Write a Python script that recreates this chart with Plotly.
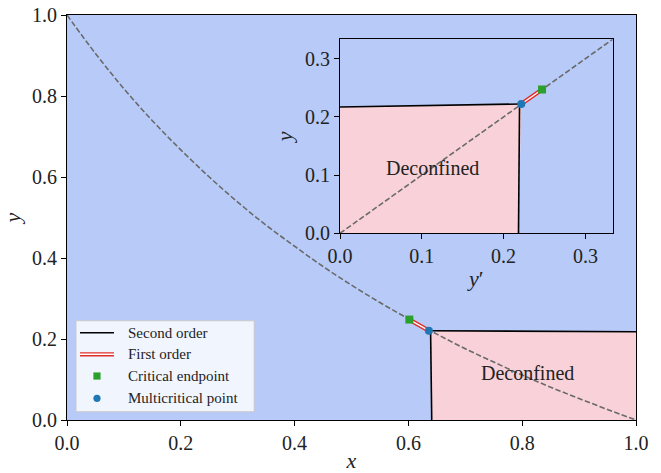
import plotly.graph_objects as go

# ---------------- data ----------------
# main panel: self-dual (dashed) curve
dual_x = [0.0, 0.05, 0.1, 0.15, 0.2, 0.25, 0.3, 0.35, 0.4, 0.45, 0.5,
          0.55, 0.6, 0.65, 0.7, 0.75, 0.8, 0.85, 0.9, 0.95, 1.0]
dual_y = [1.0, 0.905, 0.818, 0.739, 0.667, 0.6, 0.538, 0.481, 0.429, 0.379, 0.333,
          0.29, 0.25, 0.212, 0.176, 0.143, 0.111, 0.081, 0.053, 0.026, 0.0]

# main panel: second-order boundaries of deconfined phase
so_h_x = [0.638, 1.0]
so_h_y = [0.2205, 0.218]
so_v_x = [0.639, 0.641]
so_v_y = [0.2205, 0.0]

# first-order segment, critical endpoint, multicritical point
fo_x = [0.6016, 0.636]
fo_y = [0.248, 0.2205]
cep = (0.6016, 0.248)
mcp = (0.636, 0.2205)

# inset (y' vs y)
in_dual = [0.0, 1 / 3]
in_h_x = [0.0, 0.2216]
in_h_y = [0.217, 0.2222]
in_v_x = [0.2195, 0.2182]
in_v_y = [0.2222, 0.0]
in_fo_x = [0.2216, 0.247]
in_fo_y = [0.2222, 0.247]
in_cep = (0.247, 0.247)
in_mcp = (0.2216, 0.2222)

main_ticks = [0.0, 0.2, 0.4, 0.6, 0.8, 1.0]
inset_ticks = [0.0, 0.1, 0.2, 0.3]

legend_labels = ["Second order", "First order", "Critical endpoint", "Multicritical point"]

# ---------------- style ----------------
BLUE_BG = "#b8cbf8"
PINK = "#f8d2d8"
RED = "#e0302c"
GREEN = "#2ca02c"
MBLUE = "#1f77b4"
DASH_C = "#6a6a6a"
FONT = "Liberation Serif"

fig = go.Figure()


def add_panel(xa, ya, dx, dy, hx, hy, vx, vy, fx, fy, c, m, main):
    if main:
        px = list(hx) + [hx[-1], vx[-1]] + [vx[0]]
        py = list(hy) + [0.0, vy[-1]] + [vy[0]]
    else:
        px = [0.0] + list(hx) + [vx[-1], 0.0]
        py = [0.0] + list(hy) + [vy[-1], 0.0]
    fig.add_trace(go.Scatter(x=px, y=py, fill="toself", fillcolor=PINK, mode="none",
                             xaxis=xa, yaxis=ya, showlegend=False, hoverinfo="skip"))
    fig.add_trace(go.Scatter(x=dx, y=dy, mode="lines", xaxis=xa, yaxis=ya,
                             line=dict(color=DASH_C, width=1.6, dash="5.5px,2.4px", shape="spline"),
                             showlegend=False))
    fig.add_trace(go.Scatter(x=hx, y=hy, mode="lines", xaxis=xa, yaxis=ya,
                             line=dict(color="black", width=1.6), showlegend=False))
    fig.add_trace(go.Scatter(x=vx, y=vy, mode="lines", xaxis=xa, yaxis=ya,
                             line=dict(color="black", width=1.6), showlegend=False))
    fig.add_trace(go.Scatter(x=fx, y=fy, mode="lines", xaxis=xa, yaxis=ya,
                             line=dict(color=RED, width=4.2), showlegend=False))
    fig.add_trace(go.Scatter(x=fx, y=fy, mode="lines", xaxis=xa, yaxis=ya,
                             line=dict(color="white", width=1.4), showlegend=False))
    fig.add_trace(go.Scatter(x=[c[0]], y=[c[1]], mode="markers", xaxis=xa, yaxis=ya,
                             marker=dict(symbol="square", size=8, color=GREEN), showlegend=False))
    fig.add_trace(go.Scatter(x=[m[0]], y=[m[1]], mode="markers", xaxis=xa, yaxis=ya,
                             marker=dict(symbol="circle", size=8, color=MBLUE), showlegend=False))


add_panel("x", "y", dual_x, dual_y, so_h_x, so_h_y, so_v_x, so_v_y, fo_x, fo_y, cep, mcp, True)
add_panel("x2", "y2", in_dual, in_dual, in_h_x, in_h_y, in_v_x, in_v_y, in_fo_x, in_fo_y,
          in_cep, in_mcp, False)

# text labels
fig.add_annotation(x=0.81, y=0.116, xref="x", yref="y", text="Deconfined", showarrow=False,
                   font=dict(family=FONT, size=20, color="#222"))
fig.add_annotation(x=0.113, y=0.113, xref="x2", yref="y2", text="Deconfined", showarrow=False,
                   font=dict(family=FONT, size=20, color="#222"))

axis_common = dict(showline=True, linecolor="black", linewidth=1.2, mirror=True,
                   ticks="outside", ticklen=5, tickwidth=1.1, tickcolor="black",
                   showgrid=False, zeroline=False, tickformat=".1f", automargin=False,
                   tickfont=dict(family=FONT, size=20, color="#222"))

fig.update_layout(
    width=661, height=473,
    margin=dict(l=67, r=25, t=15, b=53),
    paper_bgcolor="white", plot_bgcolor=BLUE_BG,
    showlegend=False,
    xaxis=dict(domain=[0, 1], range=[0, 1], tickvals=main_ticks,
               title=dict(text="<i>x</i>", font=dict(family=FONT, size=22, color="#222"), standoff=6),
               **axis_common),
    yaxis=dict(domain=[0, 1], range=[0, 1], tickvals=main_ticks,
               title=dict(text="<i>y</i>", font=dict(family=FONT, size=22, color="#222"), standoff=10),
               **axis_common),
    xaxis2=dict(domain=[0.4798, 0.959], range=[0, 1 / 3], tickvals=inset_ticks, anchor="y2",
                title=dict(text="<i>y</i>′", font=dict(family=FONT, size=22, color="#222"), standoff=4),
                **axis_common),
    yaxis2=dict(domain=[0.461, 0.940], range=[0, 1 / 3], tickvals=inset_ticks, anchor="x2",
                title=dict(text="<i>y</i>", font=dict(family=FONT, size=22, color="#222"), standoff=6),
                **axis_common),
)

# manual legend
X0, X1, Y0, Y1 = 0.0158, 0.329, 0.0205, 0.245
fig.add_shape(type="rect", xref="paper", yref="paper", x0=X0, x1=X1, y0=Y0, y1=Y1,
              fillcolor="rgba(255,255,255,0.8)", line=dict(color="rgba(200,200,200,0.9)", width=1))
rows = [0.2156, 0.1622, 0.1086, 0.0536]
lx0, lx1, lxc, tx = 0.0228, 0.0826, 0.0527, 0.1032
fig.add_shape(type="line", xref="paper", yref="paper", x0=lx0, x1=lx1, y0=rows[0], y1=rows[0],
              line=dict(color="black", width=1.6))
fig.add_shape(type="line", xref="paper", yref="paper", x0=lx0, x1=lx1, y0=rows[1], y1=rows[1],
              line=dict(color=RED, width=4.2))
fig.add_shape(type="line", xref="paper", yref="paper", x0=lx0, x1=lx1, y0=rows[1], y1=rows[1],
              line=dict(color="white", width=1.4))
hw, hh = 3.6 / 569, 3.6 / 405
fig.add_shape(type="rect", xref="paper", yref="paper", x0=lxc - hw, x1=lxc + hw,
              y0=rows[2] - hh, y1=rows[2] + hh, fillcolor=GREEN, line=dict(width=0))
fig.add_shape(type="circle", xref="paper", yref="paper", x0=lxc - hw, x1=lxc + hw,
              y0=rows[3] - hh, y1=rows[3] + hh, fillcolor=MBLUE, line=dict(width=0))
for r, lab in zip(rows, legend_labels):
    fig.add_annotation(x=tx, y=r, xref="paper", yref="paper", text=lab, showarrow=False,
                       xanchor="left", yanchor="middle",
                       font=dict(family=FONT, size=15, color="#222"))

fig.write_html("out.html")
